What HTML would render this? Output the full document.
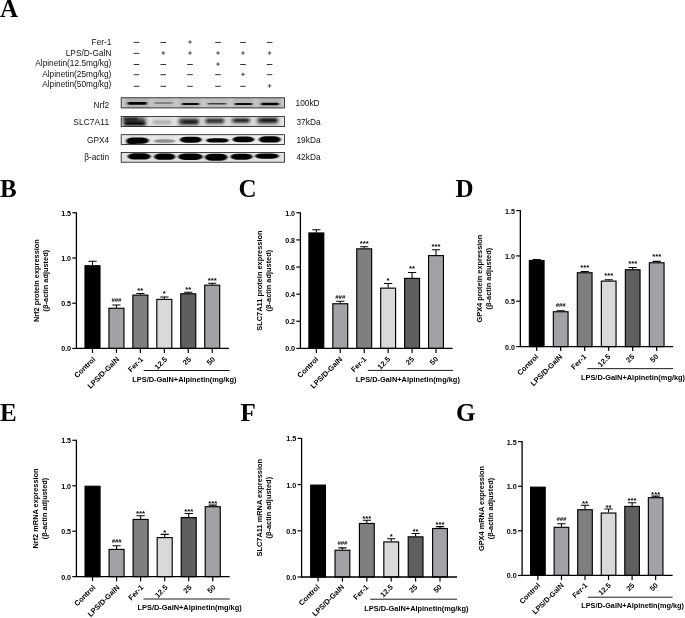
<!DOCTYPE html>
<html><head><meta charset="utf-8"><title>Figure</title>
<style>
html,body{margin:0;padding:0;background:#fff;}
body{width:685px;height:618px;overflow:hidden;font-family:"Liberation Sans",sans-serif;}
svg{display:block;opacity:0.999;}
svg text{font-family:"Liberation Sans",sans-serif;fill:#000;}
.pl{font-family:"Liberation Serif",serif;font-weight:bold;font-size:25px;}
.ar{font-size:8.3px;text-anchor:end;fill:#111;}
.ac{font-size:8.3px;text-anchor:middle;fill:#111;}
.al{font-size:8.3px;text-anchor:start;fill:#111;}
.tk{font-size:7.15px;font-weight:bold;text-anchor:end;}
.xl{font-size:7.4px;font-weight:bold;text-anchor:end;}
.gl{font-size:7.4px;font-weight:bold;text-anchor:middle;}
.yl{font-size:7.4px;font-weight:bold;text-anchor:middle;}
.sg{font-size:7.8px;text-anchor:middle;font-weight:bold;}
.hs{font-size:5.9px;text-anchor:middle;font-style:italic;font-weight:bold;}
.axl{stroke:#000;stroke-width:1.3;fill:none;}
.tkl{stroke:#000;stroke-width:1.2;fill:none;}
.er{stroke:#000;stroke-width:1.05;fill:none;}
</style></head>
<body>
<svg width="685" height="618" viewBox="0 0 685 618">
<rect width="685" height="618" fill="#fff"/>
<text x="0" y="16.6" class="pl">A</text>
<text x="111.4" y="44.6" class="ar">Fer-1</text>
<path d="M133.70 42.45H139.30" stroke="#333" stroke-width="1"/>
<path d="M160.40 42.45H166.00" stroke="#333" stroke-width="1"/>
<path d="M188.20 42.05H191.80M190.00 40.25V43.85" stroke="#3a3a3a" stroke-width="0.9"/>
<path d="M215.20 42.45H220.80" stroke="#333" stroke-width="1"/>
<path d="M240.20 42.45H245.80" stroke="#333" stroke-width="1"/>
<path d="M266.80 42.45H272.40" stroke="#333" stroke-width="1"/>
<text x="111.4" y="56.1" class="ar">LPS/D-GalN</text>
<path d="M133.70 53.4H139.30" stroke="#333" stroke-width="1"/>
<path d="M161.40 53.00H165.00M163.20 51.20V54.80" stroke="#3a3a3a" stroke-width="0.9"/>
<path d="M188.20 53.00H191.80M190.00 51.20V54.80" stroke="#3a3a3a" stroke-width="0.9"/>
<path d="M216.20 53.00H219.80M218.00 51.20V54.80" stroke="#3a3a3a" stroke-width="0.9"/>
<path d="M241.20 53.00H244.80M243.00 51.20V54.80" stroke="#3a3a3a" stroke-width="0.9"/>
<path d="M267.80 53.00H271.40M269.60 51.20V54.80" stroke="#3a3a3a" stroke-width="0.9"/>
<text x="111.4" y="66.1" class="ar">Alpinetin(12.5mg/kg)</text>
<path d="M133.70 64.5H139.30" stroke="#333" stroke-width="1"/>
<path d="M160.40 64.5H166.00" stroke="#333" stroke-width="1"/>
<path d="M187.20 64.5H192.80" stroke="#333" stroke-width="1"/>
<path d="M216.20 64.10H219.80M218.00 62.30V65.90" stroke="#3a3a3a" stroke-width="0.9"/>
<path d="M240.20 64.5H245.80" stroke="#333" stroke-width="1"/>
<path d="M266.80 64.5H272.40" stroke="#333" stroke-width="1"/>
<text x="111.4" y="76.6" class="ar">Alpinetin(25mg/kg)</text>
<path d="M133.70 74.7H139.30" stroke="#333" stroke-width="1"/>
<path d="M160.40 74.7H166.00" stroke="#333" stroke-width="1"/>
<path d="M187.20 74.7H192.80" stroke="#333" stroke-width="1"/>
<path d="M215.20 74.7H220.80" stroke="#333" stroke-width="1"/>
<path d="M241.20 74.30H244.80M243.00 72.50V76.10" stroke="#3a3a3a" stroke-width="0.9"/>
<path d="M266.80 74.7H272.40" stroke="#333" stroke-width="1"/>
<text x="111.4" y="86.6" class="ar">Alpinetin(50mg/kg)</text>
<path d="M133.70 86.3H139.30" stroke="#333" stroke-width="1"/>
<path d="M160.40 86.3H166.00" stroke="#333" stroke-width="1"/>
<path d="M187.20 86.3H192.80" stroke="#333" stroke-width="1"/>
<path d="M215.20 86.3H220.80" stroke="#333" stroke-width="1"/>
<path d="M240.20 86.3H245.80" stroke="#333" stroke-width="1"/>
<path d="M267.80 85.90H271.40M269.60 84.10V87.70" stroke="#3a3a3a" stroke-width="0.9"/>
<defs><filter id="hz" x="-20%" y="-80%" width="140%" height="260%"><feGaussianBlur stdDeviation="2 1.5"/></filter></defs>
<filter id="bl0" x="-20%" y="-80%" width="140%" height="260%"><feGaussianBlur stdDeviation="1.0 0.6"/></filter>
<text x="109.2" y="108.4" class="ar">Nrf2</text>
<text x="295.6" y="105.9" class="al">100kD</text>
<clipPath id="cp0"><rect x="120.8" y="97.4" width="164.2" height="10.899999999999991"/></clipPath>
<rect x="120.8" y="97.4" width="164.2" height="10.899999999999991" fill="#d2d2d2"/>
<g clip-path="url(#cp0)"><g filter="url(#hz)"><rect x="124" y="95.4" width="26" height="14.899999999999991" fill="#000" opacity="0.15"/><rect x="152" y="95.4" width="23" height="14.899999999999991" fill="#000" opacity="0.09"/><rect x="178" y="95.4" width="24" height="14.899999999999991" fill="#000" opacity="0.13"/><rect x="205" y="95.4" width="24" height="14.899999999999991" fill="#000" opacity="0.1"/><rect x="232" y="95.4" width="23" height="14.899999999999991" fill="#000" opacity="0.13"/><rect x="258" y="95.4" width="24" height="14.899999999999991" fill="#000" opacity="0.15"/></g><g filter="url(#bl0)"><rect x="127.60" y="102.10" width="19.20" height="2.60" rx="1.30" fill="#000" opacity="1"/><rect x="154.20" y="102.25" width="18.40" height="1.50" rx="0.75" fill="#000" opacity="0.42"/><rect x="181.90" y="103.00" width="17.30" height="2.00" rx="1.00" fill="#000" opacity="0.95"/><rect x="207.60" y="103.05" width="18.80" height="1.50" rx="0.75" fill="#000" opacity="0.68"/><rect x="234.60" y="103.00" width="17.80" height="2.00" rx="1.00" fill="#000" opacity="0.95"/><rect x="261.00" y="102.80" width="17.80" height="2.40" rx="1.20" fill="#000" opacity="1"/></g></g>
<rect x="121.2" y="97.80000000000001" width="163.39999999999998" height="10.09999999999999" fill="none" stroke="#1a1a1a" stroke-width="0.8"/>
<filter id="bl1" x="-20%" y="-80%" width="140%" height="260%"><feGaussianBlur stdDeviation="1.4 0.9"/></filter>
<text x="109.2" y="125.1" class="ar" style="letter-spacing:0.15px">SLC7A11</text>
<text x="296.4" y="124.8" class="al" style="letter-spacing:0.08px">37kDa</text>
<clipPath id="cp1"><rect x="120.8" y="116.2" width="164.2" height="10.799999999999997"/></clipPath>
<rect x="120.8" y="116.2" width="164.2" height="10.799999999999997" fill="#e8e8e8"/>
<g clip-path="url(#cp1)"><g filter="url(#hz)"><rect x="122" y="114.2" width="25" height="14.799999999999997" fill="#000" opacity="0.25"/><rect x="151" y="114.2" width="22" height="14.799999999999997" fill="#000" opacity="0.05"/><rect x="177" y="114.2" width="24" height="14.799999999999997" fill="#000" opacity="0.15"/><rect x="203" y="114.2" width="23" height="14.799999999999997" fill="#000" opacity="0.12"/><rect x="229" y="114.2" width="23" height="14.799999999999997" fill="#000" opacity="0.12"/><rect x="255" y="114.2" width="25" height="14.799999999999997" fill="#000" opacity="0.15"/></g><g filter="url(#bl1)"><rect x="124.10" y="122.10" width="21.30" height="3.20" rx="1.60" fill="#000" opacity="1"/><rect x="123.10" y="117.40" width="15.30" height="2.80" rx="1.40" fill="#000" opacity="0.85"/><rect x="123.60" y="118.05" width="21.80" height="6.90" rx="3.45" fill="#000" opacity="0.55"/><rect x="152.60" y="120.60" width="18.80" height="3.40" rx="1.70" fill="#000" opacity="0.22"/><rect x="178.60" y="118.40" width="20.30" height="6.40" rx="3.20" fill="#000" opacity="0.6"/><rect x="182.60" y="120.50" width="15.80" height="3.00" rx="1.50" fill="#000" opacity="0.75"/><rect x="205.10" y="118.30" width="19.30" height="5.40" rx="2.70" fill="#000" opacity="0.55"/><rect x="206.60" y="119.50" width="16.80" height="2.60" rx="1.30" fill="#000" opacity="0.6"/><rect x="231.60" y="118.15" width="18.30" height="4.90" rx="2.45" fill="#000" opacity="0.55"/><rect x="234.60" y="119.00" width="14.80" height="2.40" rx="1.20" fill="#000" opacity="0.8"/><rect x="257.20" y="117.65" width="20.70" height="5.90" rx="2.95" fill="#000" opacity="0.6"/><rect x="260.60" y="118.80" width="16.80" height="2.80" rx="1.40" fill="#000" opacity="0.85"/></g></g>
<rect x="121.2" y="116.60000000000001" width="163.39999999999998" height="9.999999999999996" fill="none" stroke="#1a1a1a" stroke-width="0.8"/>
<filter id="bl2" x="-20%" y="-80%" width="140%" height="260%"><feGaussianBlur stdDeviation="0.9 0.6"/></filter>
<text x="109.2" y="142.8" class="ar">GPX4</text>
<text x="296.4" y="142.8" class="al" style="letter-spacing:0.08px">19kDa</text>
<clipPath id="cp2"><rect x="120.8" y="134.3" width="164.2" height="10.599999999999994"/></clipPath>
<rect x="120.8" y="134.3" width="164.2" height="10.599999999999994" fill="#ececec"/>
<g clip-path="url(#cp2)"><g filter="url(#hz)"><rect x="125" y="132.3" width="25" height="14.599999999999994" fill="#000" opacity="0.05"/><rect x="153" y="132.3" width="23" height="14.599999999999994" fill="#000" opacity="0.04"/></g><g filter="url(#bl2)"><rect x="126.10" y="137.56" width="22.80" height="6.09" rx="7.02" ry="3.04" fill="#000" opacity="1"/><rect x="126.50" y="140.50" width="11.20" height="3.60" rx="3.54" ry="1.80" fill="#000" opacity="0.9"/><rect x="153.90" y="139.20" width="21.20" height="3.60" rx="6.54" ry="1.80" fill="#000" opacity="0.36"/><rect x="179.90" y="136.76" width="21.80" height="5.88" rx="6.72" ry="2.94" fill="#000" opacity="1"/><rect x="206.10" y="138.20" width="22.60" height="4.40" rx="6.96" ry="2.20" fill="#000" opacity="1"/><rect x="232.50" y="136.56" width="21.80" height="5.67" rx="6.72" ry="2.84" fill="#000" opacity="1"/><rect x="258.90" y="136.25" width="21.80" height="6.30" rx="6.72" ry="3.15" fill="#000" opacity="1"/></g></g>
<rect x="121.2" y="134.70000000000002" width="163.39999999999998" height="9.799999999999994" fill="none" stroke="#1a1a1a" stroke-width="0.8"/>
<filter id="bl3" x="-20%" y="-80%" width="140%" height="260%"><feGaussianBlur stdDeviation="0.9 0.6"/></filter>
<text x="109.2" y="159.9" class="ar">β-actin</text>
<text x="296.4" y="159.9" class="al" style="letter-spacing:0.08px">42kDa</text>
<clipPath id="cp3"><rect x="120.8" y="152" width="164.2" height="10.599999999999994"/></clipPath>
<rect x="120.8" y="152" width="164.2" height="10.599999999999994" fill="#e2e2e2"/>
<g clip-path="url(#cp3)"><g filter="url(#bl3)"><rect x="127.70" y="153.20" width="23.00" height="6.40" rx="7.08" ry="3.20" fill="#000" opacity="1"/><rect x="154.10" y="153.55" width="21.20" height="6.30" rx="6.54" ry="3.15" fill="#000" opacity="1"/><rect x="178.00" y="153.50" width="24.70" height="6.40" rx="7.59" ry="3.20" fill="#000" opacity="1"/><rect x="204.90" y="153.75" width="22.50" height="6.90" rx="6.93" ry="3.45" fill="#000" opacity="1"/><rect x="230.60" y="153.65" width="21.90" height="6.10" rx="6.75" ry="3.05" fill="#000" opacity="1"/><rect x="255.10" y="153.45" width="23.80" height="5.30" rx="7.32" ry="2.65" fill="#000" opacity="1"/></g></g>
<rect x="121.2" y="152.4" width="163.39999999999998" height="9.799999999999994" fill="none" stroke="#1a1a1a" stroke-width="0.8"/>
<text x="0" y="196.7" class="pl">B</text>
<path d="M92.50 265.25V261.18M88.40 261.18H96.60" class="er"/>
<rect x="85.00" y="265.75" width="15.00" height="82.70" fill="#000000" stroke="#000" stroke-width="1.15"/>
<path d="M116.44 307.75V305.04M112.34 305.04H120.54" class="er"/>
<rect x="108.94" y="308.25" width="15.00" height="40.19" fill="#a2a2a6" stroke="#000" stroke-width="1.15"/>
<text x="116.44" y="302.24" class="hs">###</text>
<path d="M140.38 294.64V293.56M136.28 293.56H144.48" class="er"/>
<rect x="132.88" y="295.14" width="15.00" height="53.31" fill="#7f7f7f" stroke="#000" stroke-width="1.15"/>
<text x="140.38" y="292.86" class="sg">**</text>
<path d="M164.32 298.89V297.08M160.22 297.08H168.42" class="er"/>
<rect x="156.82" y="299.39" width="15.00" height="49.06" fill="#d9d9d9" stroke="#000" stroke-width="1.15"/>
<text x="164.32" y="296.38" class="sg">*</text>
<path d="M188.26 293.29V292.20M184.16 292.20H192.36" class="er"/>
<rect x="180.76" y="293.79" width="15.00" height="54.66" fill="#5f5f5f" stroke="#000" stroke-width="1.15"/>
<text x="188.26" y="291.50" class="sg">**</text>
<path d="M212.20 284.69V283.34M208.10 283.34H216.30" class="er"/>
<rect x="204.70" y="285.19" width="15.00" height="63.26" fill="#a2a2a6" stroke="#000" stroke-width="1.15"/>
<text x="212.20" y="282.64" class="sg">***</text>
<path d="M76.40 212.28V348.45M75.75 348.45H229.00" class="axl"/>
<path d="M72.30 348.45H76.40" class="tkl"/>
<text x="71.10" y="351.35" class="tk">0.0</text>
<path d="M72.30 303.23H76.40" class="tkl"/>
<text x="71.10" y="306.13" class="tk">0.5</text>
<path d="M72.30 258.02H76.40" class="tkl"/>
<text x="71.10" y="260.92" class="tk">1.0</text>
<path d="M72.30 212.80H76.40" class="tkl"/>
<text x="71.10" y="215.70" class="tk">1.5</text>
<path d="M92.50 348.45V352.95" class="tkl"/>
<text transform="translate(95.90 359.75) rotate(-45)" class="xl">Control</text>
<path d="M116.44 348.45V352.95" class="tkl"/>
<text transform="translate(119.84 359.75) rotate(-45)" class="xl">LPS/D-GalN</text>
<path d="M140.38 348.45V352.95" class="tkl"/>
<text transform="translate(143.78 359.75) rotate(-45)" class="xl">Fer-1</text>
<path d="M164.32 348.45V352.95" class="tkl"/>
<text transform="translate(167.72 359.75) rotate(-45)" class="xl">12.5</text>
<path d="M188.26 348.45V352.95" class="tkl"/>
<text transform="translate(191.66 359.75) rotate(-45)" class="xl">25</text>
<path d="M212.20 348.45V352.95" class="tkl"/>
<text transform="translate(215.60 359.75) rotate(-45)" class="xl">50</text>
<path d="M143.70 370.50H229.70" stroke="#000" stroke-width="0.9" fill="none"/>
<text x="184.40" y="381.80" class="gl">LPS/D-GalN+Alpinetin(mg/kg)</text>
<text transform="translate(38.50 280.62) rotate(-90)" class="yl">Nrf2 protein expression</text>
<text transform="translate(47.50 280.62) rotate(-90)" class="yl">(β-actin adjusted)</text>
<text x="238.5" y="197.2" class="pl">C</text>
<path d="M316.35 232.46V229.75M312.25 229.75H320.45" class="er"/>
<rect x="308.90" y="232.96" width="14.90" height="115.44" fill="#000000" stroke="#000" stroke-width="1.15"/>
<path d="M340.28 303.25V301.21M336.18 301.21H344.38" class="er"/>
<rect x="332.83" y="303.75" width="14.90" height="44.65" fill="#a2a2a6" stroke="#000" stroke-width="1.15"/>
<text x="340.28" y="298.91" class="hs">###</text>
<path d="M364.21 248.33V246.70M360.11 246.70H368.31" class="er"/>
<rect x="356.76" y="248.83" width="14.90" height="99.57" fill="#7f7f7f" stroke="#000" stroke-width="1.15"/>
<text x="364.21" y="245.70" class="sg">***</text>
<path d="M388.14 287.65V283.58M384.04 283.58H392.24" class="er"/>
<rect x="380.69" y="288.15" width="14.90" height="60.25" fill="#d9d9d9" stroke="#000" stroke-width="1.15"/>
<text x="388.14" y="282.58" class="sg">*</text>
<path d="M412.07 277.89V272.46M407.97 272.46H416.17" class="er"/>
<rect x="404.62" y="278.39" width="14.90" height="70.01" fill="#5f5f5f" stroke="#000" stroke-width="1.15"/>
<text x="412.07" y="271.46" class="sg">**</text>
<path d="M436.00 255.11V249.68M431.90 249.68H440.10" class="er"/>
<rect x="428.55" y="255.61" width="14.90" height="92.79" fill="#a2a2a6" stroke="#000" stroke-width="1.15"/>
<text x="436.00" y="248.68" class="sg">***</text>
<path d="M300.40 212.28V348.40M299.75 348.40H452.60" class="axl"/>
<path d="M296.30 348.40H300.40" class="tkl"/>
<text x="295.10" y="351.30" class="tk">0.0</text>
<path d="M296.30 321.28H300.40" class="tkl"/>
<text x="295.10" y="324.18" class="tk">0.2</text>
<path d="M296.30 294.16H300.40" class="tkl"/>
<text x="295.10" y="297.06" class="tk">0.4</text>
<path d="M296.30 267.04H300.40" class="tkl"/>
<text x="295.10" y="269.94" class="tk">0.6</text>
<path d="M296.30 239.92H300.40" class="tkl"/>
<text x="295.10" y="242.82" class="tk">0.8</text>
<path d="M296.30 212.80H300.40" class="tkl"/>
<text x="295.10" y="215.70" class="tk">1.0</text>
<path d="M316.35 348.40V352.90" class="tkl"/>
<text transform="translate(318.95 359.70) rotate(-45)" class="xl">Control</text>
<path d="M340.28 348.40V352.90" class="tkl"/>
<text transform="translate(342.88 359.70) rotate(-45)" class="xl">LPS/D-GalN</text>
<path d="M364.21 348.40V352.90" class="tkl"/>
<text transform="translate(366.81 359.70) rotate(-45)" class="xl">Fer-1</text>
<path d="M388.14 348.40V352.90" class="tkl"/>
<text transform="translate(390.74 359.70) rotate(-45)" class="xl">12.5</text>
<path d="M412.07 348.40V352.90" class="tkl"/>
<text transform="translate(414.67 359.70) rotate(-45)" class="xl">25</text>
<path d="M436.00 348.40V352.90" class="tkl"/>
<text transform="translate(438.60 359.70) rotate(-45)" class="xl">50</text>
<path d="M367.80 370.40H453.00" stroke="#000" stroke-width="0.9" fill="none"/>
<text x="407.80" y="381.60" class="gl">LPS/D-GalN+Alpinetin(mg/kg)</text>
<text transform="translate(262.00 280.60) rotate(-90)" class="yl">SLC7A11 protein expression</text>
<text transform="translate(271.00 280.60) rotate(-90)" class="yl">(β-actin adjusted)</text>
<text x="455.6" y="196.8" class="pl">D</text>
<path d="M536.70 260.01V259.47M532.60 259.47H540.80" class="er"/>
<rect x="529.35" y="260.51" width="14.70" height="86.09" fill="#000000" stroke="#000" stroke-width="1.15"/>
<path d="M560.70 311.24V310.79M556.60 310.79H564.80" class="er"/>
<rect x="553.35" y="311.74" width="14.70" height="34.86" fill="#a2a2a6" stroke="#000" stroke-width="1.15"/>
<text x="560.70" y="306.79" class="hs">###</text>
<path d="M584.70 272.25V271.53M580.60 271.53H588.80" class="er"/>
<rect x="577.35" y="272.75" width="14.70" height="73.85" fill="#7f7f7f" stroke="#000" stroke-width="1.15"/>
<text x="584.70" y="269.63" class="sg">***</text>
<path d="M608.70 280.59V279.69M604.60 279.69H612.80" class="er"/>
<rect x="601.35" y="281.09" width="14.70" height="65.51" fill="#d9d9d9" stroke="#000" stroke-width="1.15"/>
<text x="608.70" y="277.79" class="sg">***</text>
<path d="M632.70 269.26V267.45M628.60 267.45H636.80" class="er"/>
<rect x="625.35" y="269.76" width="14.70" height="76.84" fill="#5f5f5f" stroke="#000" stroke-width="1.15"/>
<text x="632.70" y="265.55" class="sg">***</text>
<path d="M656.70 262.28V261.37M652.60 261.37H660.80" class="er"/>
<rect x="649.35" y="262.78" width="14.70" height="83.82" fill="#a2a2a6" stroke="#000" stroke-width="1.15"/>
<text x="656.70" y="259.47" class="sg">***</text>
<path d="M520.35 210.08V346.60M519.70 346.60H673.20" class="axl"/>
<path d="M516.25 346.60H520.35" class="tkl"/>
<text x="515.05" y="349.50" class="tk">0.0</text>
<path d="M516.25 301.27H520.35" class="tkl"/>
<text x="515.05" y="304.17" class="tk">0.5</text>
<path d="M516.25 255.93H520.35" class="tkl"/>
<text x="515.05" y="258.83" class="tk">1.0</text>
<path d="M516.25 210.60H520.35" class="tkl"/>
<text x="515.05" y="213.50" class="tk">1.5</text>
<path d="M536.70 346.60V351.10" class="tkl"/>
<text transform="translate(538.90 357.20) rotate(-45)" class="xl">Control</text>
<path d="M560.70 346.60V351.10" class="tkl"/>
<text transform="translate(562.90 357.20) rotate(-45)" class="xl">LPS/D-GalN</text>
<path d="M584.70 346.60V351.10" class="tkl"/>
<text transform="translate(586.90 357.20) rotate(-45)" class="xl">Fer-1</text>
<path d="M608.70 346.60V351.10" class="tkl"/>
<text transform="translate(610.90 357.20) rotate(-45)" class="xl">12.5</text>
<path d="M632.70 346.60V351.10" class="tkl"/>
<text transform="translate(634.90 357.20) rotate(-45)" class="xl">25</text>
<path d="M656.70 346.60V351.10" class="tkl"/>
<text transform="translate(658.90 357.20) rotate(-45)" class="xl">50</text>
<path d="M587.30 368.65H673.20" stroke="#000" stroke-width="0.9" fill="none"/>
<text x="633.00" y="379.60" class="gl">LPS/D-GalN+Alpinetin(mg/kg)</text>
<text transform="translate(481.80 278.60) rotate(-90)" class="yl">GPX4 protein expression</text>
<text transform="translate(490.90 278.60) rotate(-90)" class="yl">(β-actin adjusted)</text>
<text x="0" y="420.7" class="pl">E</text>
<rect x="85.05" y="486.25" width="15.00" height="90.40" fill="#000000" stroke="#000" stroke-width="1.15"/>
<path d="M116.60 548.93V545.74M112.50 545.74H120.70" class="er"/>
<rect x="109.10" y="549.43" width="15.00" height="27.22" fill="#a2a2a6" stroke="#000" stroke-width="1.15"/>
<text x="116.60" y="542.94" class="hs">###</text>
<path d="M140.60 518.93V515.75M136.50 515.75H144.70" class="er"/>
<rect x="133.10" y="519.43" width="15.00" height="57.22" fill="#7f7f7f" stroke="#000" stroke-width="1.15"/>
<text x="140.60" y="516.35" class="sg">***</text>
<path d="M164.70 537.11V534.38M160.60 534.38H168.80" class="er"/>
<rect x="157.20" y="537.61" width="15.00" height="39.04" fill="#d9d9d9" stroke="#000" stroke-width="1.15"/>
<text x="164.70" y="534.98" class="sg">*</text>
<path d="M188.70 517.11V513.47M184.60 513.47H192.80" class="er"/>
<rect x="181.20" y="517.61" width="15.00" height="59.04" fill="#5f5f5f" stroke="#000" stroke-width="1.15"/>
<text x="188.70" y="514.07" class="sg">***</text>
<path d="M212.75 506.20V505.11M208.65 505.11H216.85" class="er"/>
<rect x="205.25" y="506.70" width="15.00" height="69.95" fill="#a2a2a6" stroke="#000" stroke-width="1.15"/>
<text x="212.75" y="505.71" class="sg">***</text>
<path d="M76.40 439.78V576.65M75.75 576.65H229.70" class="axl"/>
<path d="M72.30 576.65H76.40" class="tkl"/>
<text x="71.10" y="579.55" class="tk">0.0</text>
<path d="M72.30 531.20H76.40" class="tkl"/>
<text x="71.10" y="534.10" class="tk">0.5</text>
<path d="M72.30 485.75H76.40" class="tkl"/>
<text x="71.10" y="488.65" class="tk">1.0</text>
<path d="M72.30 440.30H76.40" class="tkl"/>
<text x="71.10" y="443.20" class="tk">1.5</text>
<path d="M92.55 576.65V581.15" class="tkl"/>
<text transform="translate(95.95 587.95) rotate(-45)" class="xl">Control</text>
<path d="M116.60 576.65V581.15" class="tkl"/>
<text transform="translate(120.00 587.95) rotate(-45)" class="xl">LPS/D-GalN</text>
<path d="M140.60 576.65V581.15" class="tkl"/>
<text transform="translate(144.00 587.95) rotate(-45)" class="xl">Fer-1</text>
<path d="M164.70 576.65V581.15" class="tkl"/>
<text transform="translate(168.10 587.95) rotate(-45)" class="xl">12.5</text>
<path d="M188.70 576.65V581.15" class="tkl"/>
<text transform="translate(192.10 587.95) rotate(-45)" class="xl">25</text>
<path d="M212.75 576.65V581.15" class="tkl"/>
<text transform="translate(216.15 587.95) rotate(-45)" class="xl">50</text>
<path d="M143.50 599.00H229.70" stroke="#000" stroke-width="0.9" fill="none"/>
<text x="189.60" y="610.40" class="gl">LPS/D-GalN+Alpinetin(mg/kg)</text>
<text transform="translate(37.70 508.48) rotate(-90)" class="yl">Nrf2 mRNA expression</text>
<text transform="translate(46.90 508.48) rotate(-90)" class="yl">(β-actin adjusted)</text>
<text x="240.6" y="420.8" class="pl">F</text>
<rect x="310.65" y="485.10" width="14.80" height="91.90" fill="#000000" stroke="#000" stroke-width="1.15"/>
<path d="M342.44 549.74V547.89M338.34 547.89H346.54" class="er"/>
<rect x="335.04" y="550.24" width="14.80" height="26.76" fill="#a2a2a6" stroke="#000" stroke-width="1.15"/>
<text x="342.44" y="545.09" class="hs">###</text>
<path d="M366.83 522.95V520.17M362.73 520.17H370.93" class="er"/>
<rect x="359.43" y="523.45" width="14.80" height="53.55" fill="#7f7f7f" stroke="#000" stroke-width="1.15"/>
<text x="366.83" y="520.67" class="sg">***</text>
<path d="M391.22 541.43V538.65M387.12 538.65H395.32" class="er"/>
<rect x="383.82" y="541.93" width="14.80" height="35.07" fill="#d9d9d9" stroke="#000" stroke-width="1.15"/>
<text x="391.22" y="539.15" class="sg">*</text>
<path d="M415.60 536.34V533.57M411.50 533.57H419.70" class="er"/>
<rect x="408.20" y="536.84" width="14.80" height="40.16" fill="#5f5f5f" stroke="#000" stroke-width="1.15"/>
<text x="415.60" y="534.07" class="sg">**</text>
<path d="M440.00 528.03V526.64M435.90 526.64H444.10" class="er"/>
<rect x="432.60" y="528.53" width="14.80" height="48.47" fill="#a2a2a6" stroke="#000" stroke-width="1.15"/>
<text x="440.00" y="527.14" class="sg">***</text>
<path d="M301.60 437.88V577.00M300.95 577.00H457.00" class="axl"/>
<path d="M297.50 577.00H301.60" class="tkl"/>
<text x="296.30" y="579.90" class="tk">0.0</text>
<path d="M297.50 530.80H301.60" class="tkl"/>
<text x="296.30" y="533.70" class="tk">0.5</text>
<path d="M297.50 484.60H301.60" class="tkl"/>
<text x="296.30" y="487.50" class="tk">1.0</text>
<path d="M297.50 438.40H301.60" class="tkl"/>
<text x="296.30" y="441.30" class="tk">1.5</text>
<path d="M318.05 577.00V581.50" class="tkl"/>
<text transform="translate(320.25 587.50) rotate(-45)" class="xl">Control</text>
<path d="M342.44 577.00V581.50" class="tkl"/>
<text transform="translate(344.64 587.50) rotate(-45)" class="xl">LPS/D-GalN</text>
<path d="M366.83 577.00V581.50" class="tkl"/>
<text transform="translate(369.03 587.50) rotate(-45)" class="xl">Fer-1</text>
<path d="M391.22 577.00V581.50" class="tkl"/>
<text transform="translate(393.42 587.50) rotate(-45)" class="xl">12.5</text>
<path d="M415.60 577.00V581.50" class="tkl"/>
<text transform="translate(417.80 587.50) rotate(-45)" class="xl">25</text>
<path d="M440.00 577.00V581.50" class="tkl"/>
<text transform="translate(442.20 587.50) rotate(-45)" class="xl">50</text>
<path d="M370.20 599.20H457.00" stroke="#000" stroke-width="0.9" fill="none"/>
<text x="416.40" y="610.50" class="gl">LPS/D-GalN+Alpinetin(mg/kg)</text>
<text transform="translate(262.00 507.70) rotate(-90)" class="yl">SLC7A11 mRNA expression</text>
<text transform="translate(271.00 507.70) rotate(-90)" class="yl">(β-actin adjusted)</text>
<text x="456" y="420.7" class="pl">G</text>
<rect x="530.60" y="487.16" width="14.60" height="88.29" fill="#000000" stroke="#000" stroke-width="1.15"/>
<path d="M561.45 526.82V523.69M557.35 523.69H565.55" class="er"/>
<rect x="554.15" y="527.32" width="14.60" height="48.13" fill="#a2a2a6" stroke="#000" stroke-width="1.15"/>
<text x="561.45" y="520.89" class="hs">###</text>
<path d="M585.00 509.24V505.22M580.90 505.22H589.10" class="er"/>
<rect x="577.70" y="509.74" width="14.60" height="65.71" fill="#7f7f7f" stroke="#000" stroke-width="1.15"/>
<text x="585.00" y="505.82" class="sg">**</text>
<path d="M608.55 512.54V508.97M604.45 508.97H612.65" class="er"/>
<rect x="601.25" y="513.04" width="14.60" height="62.41" fill="#d9d9d9" stroke="#000" stroke-width="1.15"/>
<text x="608.55" y="509.57" class="sg">**</text>
<path d="M632.10 505.94V502.81M628.00 502.81H636.20" class="er"/>
<rect x="624.80" y="506.44" width="14.60" height="69.01" fill="#5f5f5f" stroke="#000" stroke-width="1.15"/>
<text x="632.10" y="503.41" class="sg">***</text>
<path d="M655.65 497.19V496.12M651.55 496.12H659.75" class="er"/>
<rect x="648.35" y="497.69" width="14.60" height="77.76" fill="#a2a2a6" stroke="#000" stroke-width="1.15"/>
<text x="655.65" y="496.72" class="sg">***</text>
<path d="M522.10 441.08V575.45M521.45 575.45H672.60" class="axl"/>
<path d="M518.00 575.45H522.10" class="tkl"/>
<text x="516.80" y="578.35" class="tk">0.0</text>
<path d="M518.00 530.83H522.10" class="tkl"/>
<text x="516.80" y="533.73" class="tk">0.5</text>
<path d="M518.00 486.22H522.10" class="tkl"/>
<text x="516.80" y="489.12" class="tk">1.0</text>
<path d="M518.00 441.60H522.10" class="tkl"/>
<text x="516.80" y="444.50" class="tk">1.5</text>
<path d="M537.90 575.45V579.95" class="tkl"/>
<text transform="translate(540.70 585.85) rotate(-45)" class="xl" style="font-size:7.29px">Control</text>
<path d="M561.45 575.45V579.95" class="tkl"/>
<text transform="translate(564.25 585.85) rotate(-45)" class="xl" style="font-size:7.29px">LPS/D-GalN</text>
<path d="M585.00 575.45V579.95" class="tkl"/>
<text transform="translate(587.80 585.85) rotate(-45)" class="xl" style="font-size:7.29px">Fer-1</text>
<path d="M608.55 575.45V579.95" class="tkl"/>
<text transform="translate(611.35 585.85) rotate(-45)" class="xl" style="font-size:7.29px">12.5</text>
<path d="M632.10 575.45V579.95" class="tkl"/>
<text transform="translate(634.90 585.85) rotate(-45)" class="xl" style="font-size:7.29px">25</text>
<path d="M655.65 575.45V579.95" class="tkl"/>
<text transform="translate(658.45 585.85) rotate(-45)" class="xl" style="font-size:7.29px">50</text>
<path d="M587.80 597.20H672.60" stroke="#000" stroke-width="0.9" fill="none"/>
<text x="632.60" y="608.00" class="gl" style="font-size:7.29px">LPS/D-GalN+Alpinetin(mg/kg)</text>
<text transform="translate(484.00 508.53) rotate(-90)" class="yl">GPX4 mRNA expression</text>
<text transform="translate(493.00 508.53) rotate(-90)" class="yl">(β-actin adjusted)</text>
</svg>
</body></html>
